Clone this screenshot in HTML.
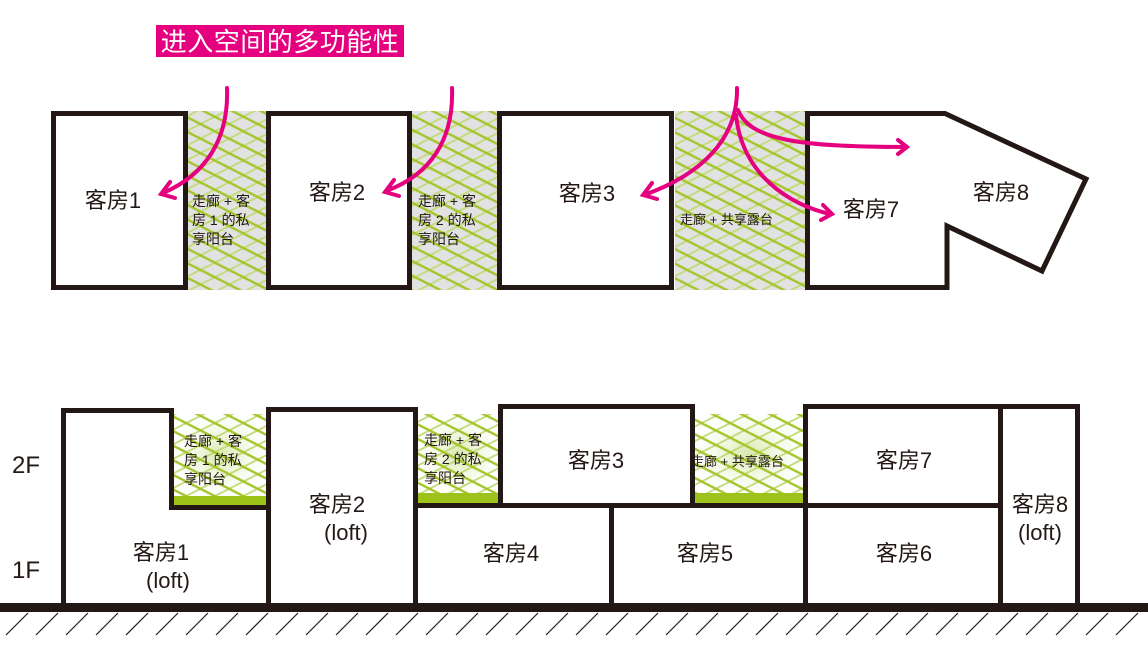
<!DOCTYPE html>
<html><head><meta charset="utf-8"><style>
html,body{margin:0;padding:0;background:#fff;}
svg{display:block;}
text{font-family:"Liberation Sans","Noto Sans CJK SC",sans-serif;fill:#231815;}
</style></head><body>
<svg width="1148" height="656" viewBox="0 0 1148 656" xmlns="http://www.w3.org/2000/svg">
<defs>
<pattern id="ha" width="10" height="13" patternUnits="userSpaceOnUse" patternTransform="rotate(27)">
<line x1="-1" y1="6.5" x2="11" y2="6.5" stroke="#a3c52a" stroke-width="2.4"/>
</pattern>
<pattern id="hb" width="10" height="13" patternUnits="userSpaceOnUse" patternTransform="rotate(-27)">
<line x1="-1" y1="6.5" x2="11" y2="6.5" stroke="#c2da78" stroke-width="1.8"/>
</pattern>
<radialGradient id="glow" cx="0.5" cy="0.5" r="0.6">
<stop offset="0" stop-color="#d6e8a8"/><stop offset="1" stop-color="#ffffff" stop-opacity="0"/>
</radialGradient>
</defs>

<rect x="156" y="25" width="248" height="32" fill="#e4007f"/>
<text x="280" y="51" font-size="26" text-anchor="middle" style="fill:#fff" letter-spacing="0.5">进入空间的多功能性</text>

<g>
<rect x="188" y="111" width="78" height="179" fill="#e2e2e2"/>
<rect x="411" y="111" width="86" height="179" fill="#e2e2e2"/>
<rect x="675" y="111" width="131" height="179" fill="#e2e2e2"/>
<rect x="188" y="111" width="78" height="179" fill="url(#hb)"/>
<rect x="411" y="111" width="86" height="179" fill="url(#hb)"/>
<rect x="675" y="111" width="131" height="179" fill="url(#hb)"/>
<rect x="188" y="111" width="78" height="179" fill="url(#ha)"/>
<rect x="411" y="111" width="86" height="179" fill="url(#ha)"/>
<rect x="675" y="111" width="131" height="179" fill="url(#ha)"/>
</g>

<g fill="none" stroke="#231815" stroke-width="5">
<rect x="53.5" y="113.5" width="132" height="174"/>
<rect x="268.5" y="113.5" width="141" height="174"/>
<rect x="499.5" y="113.5" width="172" height="174"/>
<path d="M807.5,113.5 L945,113.5 L1086,179 L1042,271 L947,226 L947,287.5 L807.5,287.5 Z"/>
</g>

<text x="113" y="208" font-size="22" text-anchor="middle">客房1</text>
<text x="337" y="200" font-size="22" text-anchor="middle">客房2</text>
<text x="587" y="201" font-size="22" text-anchor="middle">客房3</text>
<text x="871" y="217" font-size="22" text-anchor="middle">客房7</text>
<text x="1001" y="200" font-size="22" text-anchor="middle">客房8</text>
<g font-size="14">
<text x="192" y="206">走廊 + 客</text><text x="192" y="225">房 1 的私</text><text x="192" y="244">享阳台</text>
<text x="418" y="206">走廊 + 客</text><text x="418" y="225">房 2 的私</text><text x="418" y="244">享阳台</text>
<text x="680" y="224" font-size="13">走廊 + 共享露台</text>
</g>

<g fill="none" stroke="#e4007f" stroke-width="4" stroke-linecap="round">
<path d="M227,88 C229,140 205,175 163,193"/>
<path d="M170,182 L161,194 L175,198"/>
<path d="M452,88 C454,140 430,175 386,191"/>
<path d="M394,180 L385,192 L399,196"/>
<path d="M737,88 C738,140 700,175 644,195"/>
<path d="M652,183 L643,195 L657,199"/>
<path d="M738,110 C750,140 800,147 906,147"/>
<path d="M898,140 L907,147 L898,154"/>
<path d="M736,115 C742,175 790,205 830,214"/>
<path d="M823,205 L832,214 L821,220"/>
</g>

<rect x="174" y="414" width="92" height="82" fill="url(#glow)"/>
<rect x="174" y="414" width="92" height="82" fill="url(#hb)"/>
<rect x="174" y="414" width="92" height="82" fill="url(#ha)"/>
<rect x="418" y="414" width="82" height="80" fill="url(#glow)"/>
<rect x="418" y="414" width="82" height="80" fill="url(#hb)"/>
<rect x="418" y="414" width="82" height="80" fill="url(#ha)"/>
<rect x="694" y="414" width="110" height="80" fill="url(#glow)"/>
<rect x="694" y="414" width="110" height="80" fill="url(#hb)"/>
<rect x="694" y="414" width="110" height="80" fill="url(#ha)"/>
<rect x="174" y="496" width="92" height="10" fill="#9dc21a"/>
<rect x="418" y="493" width="82" height="10" fill="#9dc21a"/>
<rect x="694" y="493" width="110" height="10" fill="#9dc21a"/>

<g fill="none" stroke="#231815" stroke-width="5">
<path d="M63.5,606 L63.5,410.5 L171.5,410.5 L171.5,507.5 L266,507.5"/>
<rect x="268.5" y="409.5" width="147" height="196"/>
<path d="M416,505.5 L1000,505.5"/>
<path d="M500.5,505 L500.5,406.5 L692.5,406.5 L692.5,505"/>
<path d="M805.5,606 L805.5,406.5 L1077.5,406.5 L1077.5,606"/>
<path d="M1000.5,406 L1000.5,606"/>
<path d="M611.5,505 L611.5,606"/>
</g>
<rect x="0" y="603" width="1148" height="9" fill="#231815"/>
<g stroke="#231815" stroke-width="1.2">
<path d="M6,635 L28,613 M36,635 L58,613 M66,635 L88,613 M96,635 L118,613 M126,635 L148,613 M156,635 L178,613 M186,635 L208,613 M216,635 L238,613 M246,635 L268,613 M276,635 L298,613 M306,635 L328,613 M336,635 L358,613 M366,635 L388,613 M396,635 L418,613 M426,635 L448,613 M456,635 L478,613 M486,635 L508,613 M516,635 L538,613 M546,635 L568,613 M576,635 L598,613 M606,635 L628,613 M636,635 L658,613 M666,635 L688,613 M696,635 L718,613 M726,635 L748,613 M756,635 L778,613 M786,635 L808,613 M816,635 L838,613 M846,635 L868,613 M876,635 L898,613 M906,635 L928,613 M936,635 L958,613 M966,635 L988,613 M996,635 L1018,613 M1026,635 L1048,613 M1056,635 L1078,613 M1086,635 L1108,613 M1116,635 L1138,613"/>
</g>

<text x="12" y="473" font-size="24">2F</text>
<text x="12" y="578" font-size="24">1F</text>
<g font-size="14">
<text x="184" y="446">走廊 + 客</text><text x="184" y="465">房 1 的私</text><text x="184" y="484">享阳台</text>
<text x="424" y="445">走廊 + 客</text><text x="424" y="464">房 2 的私</text><text x="424" y="483">享阳台</text>
<text x="691" y="466" font-size="13">走廊 + 共享露台</text>
</g>
<g font-size="22" text-anchor="middle">
<text x="161" y="560">客房1</text><text x="168" y="588">(loft)</text>
<text x="337" y="512">客房2</text><text x="346" y="540">(loft)</text>
<text x="596" y="468">客房3</text>
<text x="904" y="468">客房7</text>
<text x="511" y="561">客房4</text>
<text x="705" y="561">客房5</text>
<text x="904" y="561">客房6</text>
<text x="1040" y="512">客房8</text><text x="1040" y="540">(loft)</text>
</g>
</svg>
</body></html>
